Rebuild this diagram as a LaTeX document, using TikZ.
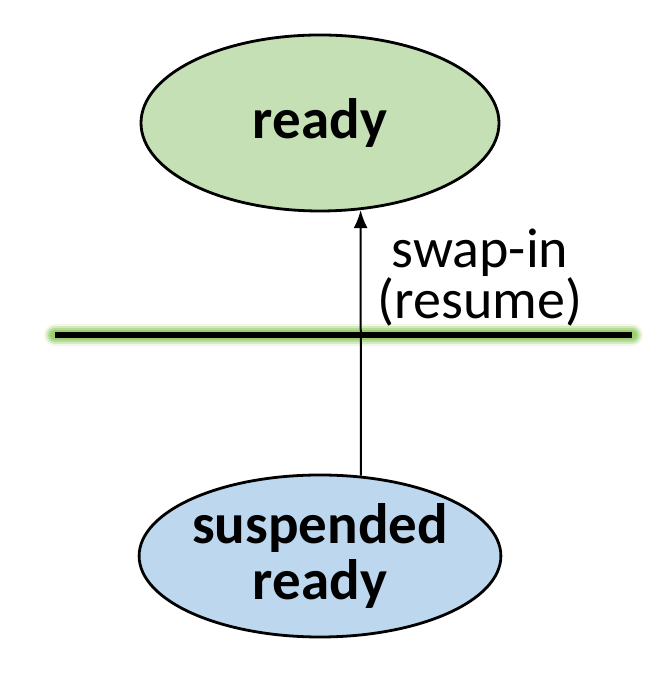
\documentclass[tikz,border=0pt]{standalone}
\usepackage{fontspec}
\setmainfont{Carlito}
\usetikzlibrary{shapes.geometric,arrows.meta}

\definecolor{readygreen}{RGB}{197,224,180}
\definecolor{suspblue}{RGB}{189,215,238}
\definecolor{glowgreen}{RGB}{150,205,105}

\begin{document}
\begin{tikzpicture}[x=1pt,y=1pt,
    state/.style={ellipse,draw=black,line width=2.8pt,inner sep=0pt,
      minimum width=358pt,font=\fontsize{57}{56}\selectfont\bfseries,align=center},
    lbl/.style={font=\fontsize{56}{47}\selectfont,align=center}]
    \useasboundingbox (0,0) rectangle (660,676);

    \node[state,fill=readygreen,minimum height=176pt] (rd) at (320,553) {ready};
    \node[state,fill=suspblue,minimum height=162pt] (sr) at (320,120) {suspended\\ready};

    \coordinate (sepL) at (55,341);
    \coordinate (sepR) at (632,341);
    \foreach \w/\o in {22/0.15,18/0.3,14/0.5,10/0.85} {
      \draw[glowgreen,line width=\w pt,opacity=\o,line cap=round] (sepL) -- (sepR);
    }
    \draw[line width=5.5pt] (sepL) -- (sepR);

    \draw[line width=2pt,-{Latex[length=18pt,width=14pt]}] (sr.63) -- (rd.-65);
    \node[lbl] (swap) at (480,398) {swap-in\\(resume)};
  \end{tikzpicture}
\end{document}
